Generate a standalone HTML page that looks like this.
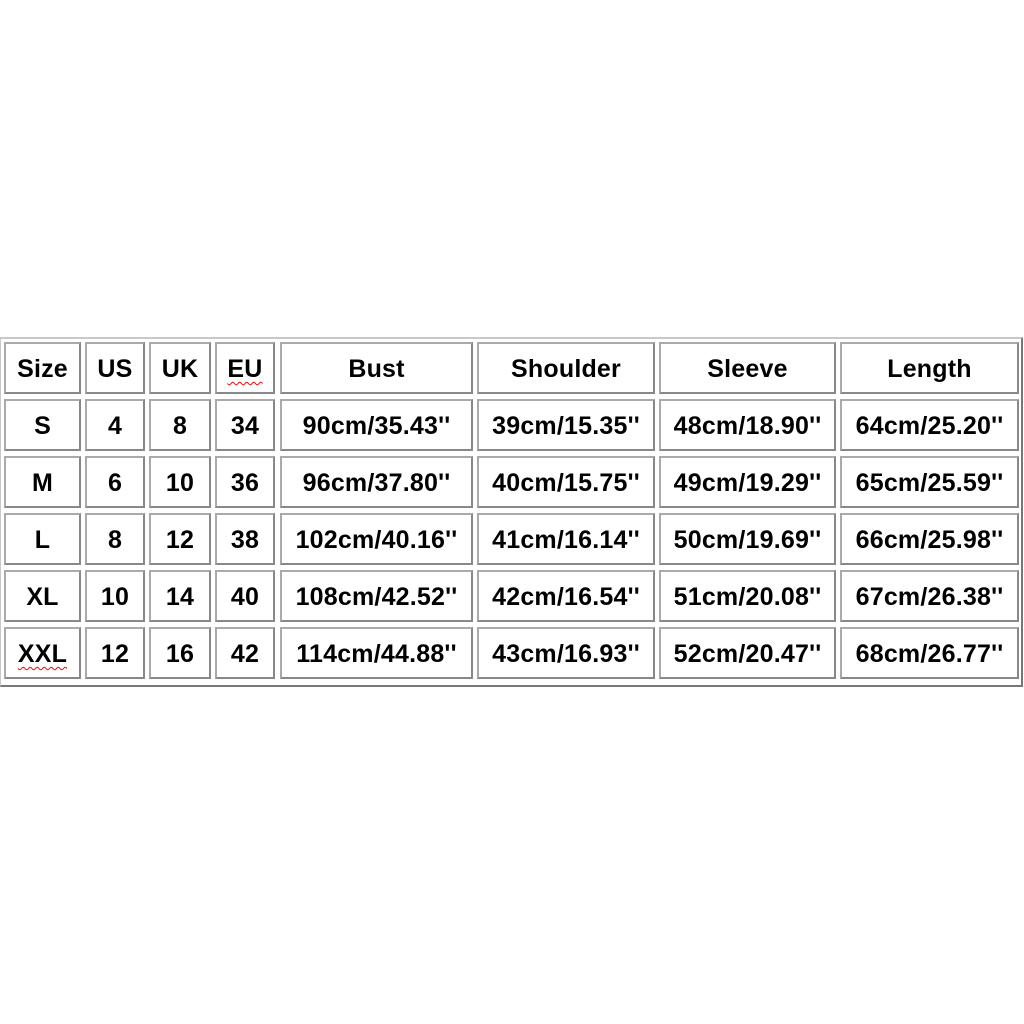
<!DOCTYPE html>
<html><head><meta charset="utf-8"><style>
body{margin:0;width:1024px;height:1024px;background:#fff;position:relative;overflow:hidden;font-family:"Liberation Sans",Arial,sans-serif;}
.o{position:absolute;left:0;top:337px;width:1020px;height:346px;border-top:2px solid #c8c8c8;border-left:1px solid #c8c8c8;border-right:2px solid #777;border-bottom:2px solid #777;}
.c{position:absolute;box-sizing:border-box;border:2px solid;border-color:#aaa #888 #888 #aaa;display:flex;align-items:center;justify-content:center;font-weight:bold;font-size:25px;color:#000;padding-top:3px;letter-spacing:0.2px;}
.w{text-decoration:underline wavy red;text-decoration-thickness:1px;text-underline-offset:4px;}
</style></head><body>
<div class="o"></div>
<div id="t"></div>
<script>
var xs=[[4,81],[85,145],[149,211],[215,275],[280,473],[477,655],[659,836],[840,1019]];
var ys=[342,399,456,513,570,627];
var d=[["Size","US","UK","<span class='w'>EU</span>","Bust","Shoulder","Sleeve","Length"],
["S","4","8","34","90cm/35.43''","39cm/15.35''","48cm/18.90''","64cm/25.20''"],
["M","6","10","36","96cm/37.80''","40cm/15.75''","49cm/19.29''","65cm/25.59''"],
["L","8","12","38","102cm/40.16''","41cm/16.14''","50cm/19.69''","66cm/25.98''"],
["XL","10","14","40","108cm/42.52''","42cm/16.54''","51cm/20.08''","67cm/26.38''"],
["<span class='w'>XXL</span>","12","16","42","114cm/44.88''","43cm/16.93''","52cm/20.47''","68cm/26.77''"]];
var h="";
for(var r=0;r<6;r++)for(var c=0;c<8;c++){
h+="<div class='c' style='left:"+xs[c][0]+"px;top:"+ys[r]+"px;width:"+(xs[c][1]-xs[c][0])+"px;height:52px'>"+d[r][c]+"</div>";}
document.getElementById("t").innerHTML=h;
</script>
</body></html>
